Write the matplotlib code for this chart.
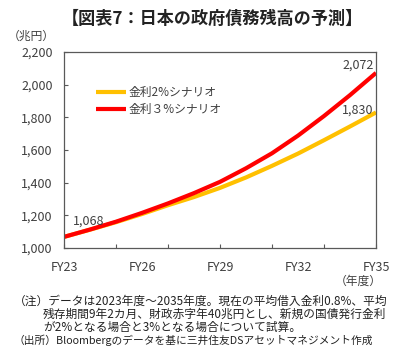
import matplotlib
matplotlib.use("Agg")
import matplotlib.pyplot as plt
import numpy as np

plt.rcParams['font.family'] = ['Noto Sans CJK JP', 'DejaVu Sans']

years = list(range(2023, 2036))
rate2 = [1068, 1112, 1158, 1208, 1262, 1312, 1368, 1432, 1503, 1578, 1660, 1744, 1830]
rate3 = [1068, 1113, 1161, 1215, 1273, 1336, 1405, 1488, 1580, 1688, 1808, 1936, 2072]
label2 = "金利2%シナリオ"
label3 = "金利３%シナリオ"
xlabels = ["FY23", "FY26", "FY29", "FY32", "FY35"]
title = "【図表7：日本の政府債務残高の予測】"
notes = [
    ("（注）データは2023年度～2035年度。現在の平均借入金利0.8%、平均", 14),
    ("残存期間9年2カ月、財政赤字年40兆円とし、新規の国債発行金利", 43),
    ("が2%となる場合と3%となる場合について試算。", 43),
    ("（出所）Bloombergのデータを基に三井住友DSアセットマネジメント作成", 14),
]

W, H = 405, 363
fig = plt.figure(figsize=(W/100, H/100), dpi=100)
ax = fig.add_axes([64/W, 1-248/H, (376-64)/W, (248-52)/H])

x = np.arange(len(years))
ax.plot(x, rate2, color='#FFC000', lw=3.0, label=label2, solid_capstyle='butt')
ax.plot(x, rate3, color='#FF0000', lw=3.0, label=label3, solid_capstyle='butt')

ax.set_xlim(0, len(years)-1)
ax.set_ylim(1000, 2200)
ax.set_yticks(range(1000, 2201, 200))
ax.set_yticklabels([f"{v:,}" for v in range(1000, 2201, 200)], fontsize=9, color='#404040')
ax.set_xticks(np.arange(0, len(years), 2))
ax.set_xticklabels([])
ax.tick_params(axis='both', direction='in', length=3, color='#595959', width=0.8)
ax.tick_params(axis='y', pad=8)
for s in ax.spines.values():
    s.set_color('#595959')
    s.set_linewidth(0.9)

for i, lab in zip(range(0, len(years), 3), xlabels):
    ax.text(i, -0.097, lab, transform=ax.get_xaxis_transform(), ha='center', va='center',
            fontsize=9, color='#404040')

ax.text(0.35, rate3[0] + 97, f"{rate3[0]:,}", fontsize=9, color='#404040', ha='left', va='center')
ax.text(11.9, rate3[-1] + 48, f"{rate3[-1]:,}", fontsize=9, color='#404040', ha='right', va='center')
ax.text(11.9, rate2[-1] + 15, f"{rate2[-1]:,}", fontsize=9, color='#404040', ha='right', va='center')

leg = ax.legend(loc='upper left', bbox_to_anchor=(0.086, 0.85), frameon=False, fontsize=8.5,
                handlelength=2.6, handletextpad=0.2, labelspacing=0.35, borderaxespad=0)
for t in leg.get_texts():
    t.set_color('#404040')

fig.text(212/W, 1-19/H, title, ha='center', va='center', fontsize=12.3, fontweight='bold', color='#222222')
fig.text(8/W, 1-36/H, "（兆円）", ha='left', va='center', fontsize=8.5, color='#404040')
fig.text(382/W, 1-281/H, "（年度）", ha='right', va='center', fontsize=8.5, color='#404040')

ys = [301, 314, 327, 340]
texts = []
for yy, (line, xx) in zip(ys, notes):
    texts.append(fig.text(xx/W, 1-yy/H, line, ha='left', va='center', fontsize=9.0, color='#222222'))

# fit note line widths to the reference extents
renderer = fig.canvas.get_renderer()
w0 = texts[0].get_window_extent(renderer).width
fs = 9.0 * 372.0 / w0
for t in texts[:3]:
    t.set_fontsize(fs)
w3 = texts[3].get_window_extent(renderer).width
texts[3].set_fontsize(min(fs, 9.0 * 358.0 / w3))

fig.savefig("out.png", dpi=100)
